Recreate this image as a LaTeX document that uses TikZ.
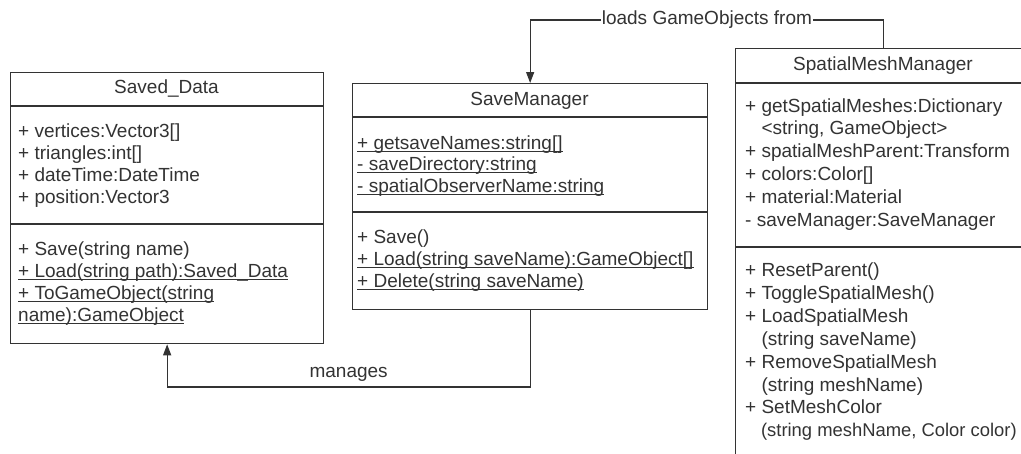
\documentclass[tikz,border=0pt]{standalone}
\usepackage{fontspec}
\setmainfont{Liberation Sans}
\usetikzlibrary{arrows.meta}
\definecolor{ink}{HTML}{333333}
\newcommand\ulx[1]{\setbox0\hbox{#1}\rlap{\rule[-2.6pt]{\wd0}{0.9pt}}\box0}
\tikzset{
  box/.style={draw=ink, line width=1.3pt, anchor=north west, inner sep=0pt, fill=white},
  txt/.style={anchor=base west, inner sep=0pt, text=ink, font=\fontsize{19}{22}\selectfont},
  ttl/.style={anchor=base, inner sep=0pt, text=ink, font=\fontsize{19}{22}\selectfont},
  conn/.style={draw=ink, line width=1.2pt},
  arr/.style={conn, -{Triangle[length=11pt,width=8pt]}},
  lbl/.style={text=ink, font=\fontsize{19}{22}\selectfont, inner sep=1pt}
}
\begin{document}
\begin{tikzpicture}[x=1pt,y=-1pt]
\clip (0,0) rectangle (1021,453);
\fill[white] (0,0) rectangle (1021,453);

% Saved_Data
\node[box, minimum width=313pt, minimum height=271pt] (sd) at (10,72) {};
\draw[conn] (sd.west |- 0,106) -- (sd.east |- 0,106);
\draw[conn] (sd.west |- 0,224) -- (sd.east |- 0,224);
\node[ttl] (sdt) at (166.5,93) {Saved\_Data};
\node[txt] (sda1) at (18,137) {+ vertices:Vector3[]};
\node[txt] (sda2) at (18,159) {+ triangles:int[]};
\node[txt] (sda3) at (18,181) {+ dateTime:DateTime};
\node[txt] (sda4) at (18,203) {+ position:Vector3};
\node[txt] (sdm1) at (18,255) {+ Save(string name)};
\node[txt] (sdm2) at (18,277) {\ulx{+ Load(string path):Saved\_Data}};
\node[txt] (sdm3) at (18,299) {\ulx{+ ToGameObject(string}};
\node[txt] (sdm4) at (18,321) {\ulx{name):GameObject}};

% SaveManager
\node[box, minimum width=355pt, minimum height=226pt] (sm) at (352,83) {};
\draw[conn] (sm.west |- 0,117) -- (sm.east |- 0,117);
\draw[conn] (sm.west |- 0,212) -- (sm.east |- 0,212);
\node[ttl] (smt) at (529.5,105) {SaveManager};
\node[txt] (sma1) at (357,149) {\ulx{+ getsaveNames:string[]}};
\node[txt] (sma2) at (357,170) {\ulx{- saveDirectory:string}};
\node[txt] (sma3) at (357,192) {\ulx{- spatialObserverName:string}};
\node[txt] (smm1) at (357,243) {+ Save()};
\node[txt] (smm2) at (357,265) {\ulx{+ Load(string saveName):GameObject[]}};
\node[txt] (smm3) at (357,287) {\ulx{+ Delete(string saveName)}};

% SpatialMeshManager
\node[box, minimum width=296pt, minimum height=430pt] (smm) at (735,48) {};
\draw[conn] (smm.west |- 0,83) -- (smm.east |- 0,83);
\draw[conn] (smm.west |- 0,247) -- (smm.east |- 0,247);
\node[ttl] (smmt) at (883,70) {SpatialMeshManager};
\node[txt] (smma1) at (745,112) {+ getSpatialMeshes:Dictionary};
\node[txt] (smma2) at (745,134) {\phantom{+ }<string, GameObject>};
\node[txt] (smma3) at (745,157) {+ spatialMeshParent:Transform};
\node[txt] (smma4) at (745,180) {+ colors:Color[]};
\node[txt] (smma5) at (745,203) {+ material:Material};
\node[txt] (smma6) at (745,226) {- saveManager:SaveManager};
\node[txt] (smmm1) at (745,276) {+ ResetParent()};
\node[txt] (smmm2) at (745,299) {+ ToggleSpatialMesh()};
\node[txt] (smmm3) at (745,322) {+ LoadSpatialMesh};
\node[txt] (smmm4) at (745,345) {\phantom{+ }(string saveName)};
\node[txt] (smmm5) at (745,368) {+ RemoveSpatialMesh};
\node[txt] (smmm6) at (745,391) {\phantom{+ }(string meshName)};
\node[txt] (smmm7) at (745,413) {+ SetMeshColor};
\node[txt, font=\fontsize{18.4}{22}\selectfont] (smmm8) at (745,436) {\phantom{+ }(string meshName, Color color)};

% connectors
\coordinate (mcorner) at (sd.south |- 0,387);
\draw[arr] (sm.south) |- (mcorner) node[lbl, pos=0.75, above=4pt] {manages} -- (sd.south);

\coordinate (lcorner) at (smm.north |- 0,20);
\draw[arr] (smm.north) -- (lcorner) -| node[lbl, pos=0.25, fill=white] {loads GameObjects from} (sm.north);
\end{tikzpicture}
\end{document}
